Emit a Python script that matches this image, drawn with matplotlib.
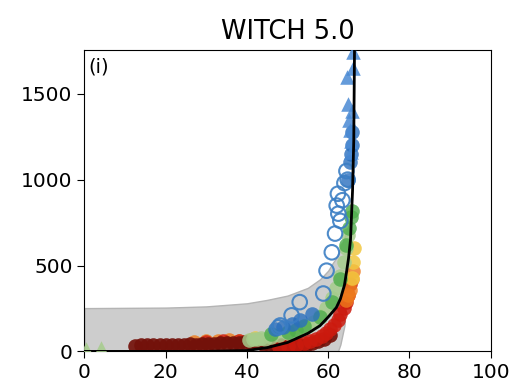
import numpy as np
import matplotlib.pyplot as plt

# curva ajustada
curva_x = [0, 30, 40, 45, 50, 55, 58, 60, 62, 63, 64, 64.5, 65, 65.5, 66, 66.3, 66.5]
curva_y = [0, 0, 5, 22, 52, 105, 150, 200, 255, 305, 385, 460, 540, 650, 936, 1230, 1800]

# faixa cinza
faixa_x = [0, 20, 30, 40, 45, 50, 55, 58, 60, 61, 62, 62.4, 63, 64, 64.5, 64.8, 65.1, 65.3]
faixa_inf = [0, 0, 0, 0, 0, 0, 0, 0, 0, 0, 0, 0, 40, 150, 300, 400, 520, 740]
faixa_sup = [252, 255, 262, 280, 300, 325, 370, 420, 470, 510, 545, 560, 600, 660, 700, 720, 735, 745]

# pontos por grupo
vermelho_esc_x = [12.5, 14, 15.5, 17, 18.5, 20, 21.5, 23, 24.5, 26, 27.5, 29, 30.5, 32, 33.5, 35, 36.5,
                  38, 39.5, 41, 42.5, 44, 45.5, 47, 48.5, 50, 51.5, 53, 54.5, 56, 57.5, 59, 60.5]
vermelho_esc_y = [30, 35, 35, 38, 40, 38, 40, 36, 40, 42, 40, 45, 45, 42, 48, 50, 48,
                  50, 52, 50, 55, 45, 45, 40, 35, 30, 30, 35, 40, 50, 60, 75, 95]
vermelho_fundo_x = [30, 34, 38, 42]
vermelho_fundo_y = [55, 58, 58, 62]
vermelho_x = [48, 50, 52, 54, 55.5, 57, 58.5, 59.5, 60.5, 61.5, 62.5, 63, 63.8, 64.3, 64.8, 65.3]
vermelho_y = [25, 30, 40, 50, 60, 75, 90, 110, 130, 155, 180, 215, 250, 285, 330, 390]
laranja_fundo_x = [27, 30, 33, 35.5, 38, 41]
laranja_fundo_y = [55, 60, 62, 64, 62, 66]
laranja_x = [64.5, 65, 65.3, 65.8, 66]
laranja_y = [300, 330, 360, 420, 470]
amarelo_x = [42, 65.8, 66.2, 66.3]
amarelo_y = [80, 430, 520, 600]
verde_claro_x = [40.5, 41.5, 42.5, 43.5, 44.5, 46, 48, 50, 52, 53.5, 55, 56.5, 58, 59.5, 61, 62, 63, 64, 64.5, 65]
verde_claro_y = [65, 75, 70, 80, 75, 85, 95, 105, 120, 135, 150, 170, 205, 250, 310, 370, 440, 520, 600, 680]
verde_claro_tri_x = [0.5, 4]
verde_claro_tri_y = [15, 20]
verde_x = [46, 50, 52, 54, 58, 61, 63, 64.5, 65.2, 65.5, 65.8]
verde_y = [100, 115, 125, 150, 200, 290, 420, 620, 720, 780, 820]
azul_x = [47, 49, 51, 53, 56, 64.8, 65.3, 65.6, 65.8, 65.9]
azul_y = [130, 140, 160, 180, 220, 1000, 1100, 1150, 1200, 1280]
azul_aberto_x = [47.8, 48.2, 51, 53, 58.8, 59.6, 60.9, 61.7, 62.1, 62.5, 62.4, 63, 63.5, 64, 64.5, 64.8]
azul_aberto_y = [140, 151, 210, 287, 337, 470, 577, 686, 849, 802, 918, 760, 880, 980, 1050, 1000]
azul_tri_x = [64.6, 65.0, 65.2, 65.4, 65.5, 65.6, 65.8, 66.0, 66.2]
azul_tri_y = [1595, 1442, 1345, 1290, 1226, 1160, 1400, 1650, 1745]

fig = plt.figure(figsize=(5.13, 3.83), dpi=100)
ax = fig.add_axes([0.1645, 0.0825, 0.792, 0.787])

ax.fill_between(faixa_x, faixa_inf, faixa_sup, color='#cdcdcd', edgecolor='#b4b4b4', lw=1, zorder=1)

s = 110
# fundo: laranja e vermelho por baixo do vermelho escuro
ax.scatter(laranja_fundo_x, laranja_fundo_y, s=s, color='#ee7b1c', alpha=0.8, lw=0, zorder=1.5)
ax.scatter(vermelho_fundo_x, vermelho_fundo_y, s=s, color='#cc1a0e', alpha=0.8, lw=0, zorder=1.5)
ax.scatter(vermelho_esc_x, vermelho_esc_y, s=s, color='#73110a', alpha=0.92, lw=0, zorder=2)
ax.scatter(vermelho_x, vermelho_y, s=s, color='#cc1a0e', alpha=0.85, lw=0, zorder=2)
ax.scatter(laranja_x, laranja_y, s=s, color='#ee7b1c', alpha=0.8, lw=0, zorder=2)
ax.scatter(amarelo_x, amarelo_y, s=s, color='#f2c740', alpha=0.85, lw=0, zorder=2)
ax.scatter(verde_claro_x, verde_claro_y, s=s, color='#a6cc8c', alpha=0.85, lw=0, zorder=3)
ax.scatter(verde_claro_tri_x, verde_claro_tri_y, s=s, marker='^', color='#a6cc8c', alpha=0.85, lw=0, zorder=3)
ax.scatter(verde_x, verde_y, s=s, color='#4dac4a', alpha=0.8, lw=0, zorder=3)
ax.scatter(azul_x, azul_y, s=s, color='#2a6fbe', alpha=0.8, lw=0, zorder=3)
ax.scatter(azul_aberto_x, azul_aberto_y, s=s, facecolors='none', edgecolors='#3b7ec4', lw=1.5, alpha=0.9, zorder=4)
ax.scatter(azul_tri_x, azul_tri_y, s=s, marker='^', color='#4a8ad4', alpha=0.85, lw=0, zorder=4)

ax.plot(curva_x, curva_y, color='black', lw=2, zorder=5)

ax.set_xlim(0, 100)
ax.set_ylim(0, 1755)
ax.set_xticks([0, 20, 40, 60, 80, 100])
ax.set_yticks([0, 500, 1000, 1500])
ax.tick_params(labelsize=14.5, length=5)
ax.set_title('WITCH 5.0', fontsize=18.5, pad=8)
ax.text(0.01, 0.975, '(i)', transform=ax.transAxes, ha='left', va='top', fontsize=14)

fig.savefig('out.png', dpi=100)
